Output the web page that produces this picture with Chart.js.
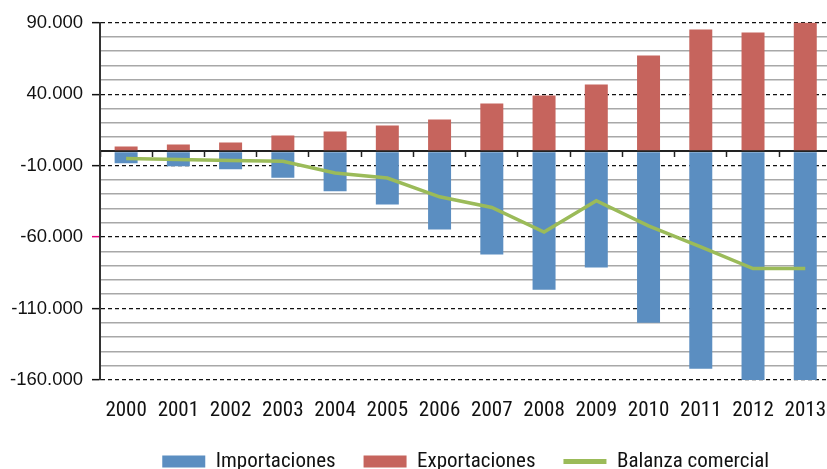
<!DOCTYPE html>
<html>
<head>
<meta charset="utf-8">
<script src="https://cdn.jsdelivr.net/npm/chart.js@4/dist/chart.umd.min.js"></script>
<style>
  html, body { margin: 0; padding: 0; background: #fff; overflow: hidden; }
  canvas { display: block; }
</style>
</head>
<body>
<canvas id="c" width="844" height="482"></canvas>
<script>
const years = ['2000','2001','2002','2003','2004','2005','2006','2007','2008','2009','2010','2011','2012','2013'];
const importaciones = [-8400, -10500, -12600, -18400, -28000, -37200, -54700, -72200, -96800, -81300, -119900, -152200, -165200, -172300];
const exportaciones = [3300, 4700, 6100, 11000, 13800, 18000, 22200, 33500, 39100, 46800, 67100, 85300, 83200, 90300];
const balanza = [-5100, -5800, -6500, -7000, -15100, -18700, -31800, -39300, -56500, -34600, -52100, -66800, -82000, -82000];
const seriesNames = ['Importaciones', 'Exportaciones', 'Balanza comercial'];
const yMin = -160000, yMax = 90000, yMinorStep = 10000, yMajorStep = 50000;

const NARROW = "'Liberation Sans Narrow', 'Roboto Condensed', 'DejaVu Sans Condensed', 'Liberation Sans', sans-serif";
const isMajor = v => ((v - yMin) % yMajorStep) === 0;
const fmt = v => {
  const s = Math.abs(v).toString().replace(/\B(?=(\d{3})+(?!\d))/g, '.');
  return (v < 0 ? '-' : '') + s;
};

new Chart(document.getElementById('c'), {
  type: 'bar',
  data: {
    labels: years,
    datasets: [
      { label: seriesNames[0], data: importaciones, backgroundColor: '#5B8EC1', order: 2, grouped: false,
        categoryPercentage: 1, barPercentage: 0.44 },
      { label: seriesNames[1], data: exportaciones, backgroundColor: '#C6645D', order: 1, grouped: false,
        categoryPercentage: 1, barPercentage: 0.44 },
      { type: 'line', label: seriesNames[2], data: balanza, borderColor: '#9BBB59', backgroundColor: '#9BBB59',
        borderWidth: 3.5, pointRadius: 0, tension: 0, order: 0, fill: false }
    ]
  },
  options: {
    responsive: false,
    animation: false,
    devicePixelRatio: 1,
    layout: { padding: { top: 22.7, right: 0, left: 0, bottom: 0 } },
    plugins: {
      tooltip: { enabled: false },
      legend: {
        position: 'bottom',
        fullSize: false,
        labels: {
          usePointStyle: true,
          pointStyleWidth: 43,
          boxHeight: 12,
          padding: 28,
          color: '#111',
          font: { family: NARROW, size: 21 },
          sort: (a, b) => a.datasetIndex - b.datasetIndex,
          generateLabels: (chart) => chart.data.datasets.map((ds, i) => ({
            text: ds.label,
            fillStyle: ds.backgroundColor,
            strokeStyle: ds.type === 'line' ? ds.borderColor : ds.backgroundColor,
            lineWidth: ds.type === 'line' ? 5 : 0,
            pointStyle: ds.type === 'line' ? 'line' : 'rect',
            fontColor: '#111',
            hidden: false,
            datasetIndex: i
          }))
        }
      }
    },
    scales: {
      x: {
        type: 'category',
        position: 'bottom',
        offset: true,
        afterFit: (scale) => { scale.height = 43; },
        grid: { display: false, drawTicks: false },
        border: { display: false },
        ticks: { color: '#111', font: { family: NARROW, size: 21 }, padding: 18, maxRotation: 0, autoSkip: false }
      },
      x2: {
        type: 'category',
        labels: years,
        position: { y: 0 },
        offset: true,
        grid: { offset: true, drawOnChartArea: false, drawTicks: true, tickLength: 6, tickColor: '#222', tickWidth: 1.5 },
        border: { display: false },
        ticks: { display: false }
      },
      y: {
        type: 'linear',
        min: yMin,
        max: yMax,
        afterFit: (scale) => { scale.width = 100; },
        ticks: {
          stepSize: yMinorStep,
          autoSkip: false,
          padding: 9,
          color: '#111',
          font: { family: "'Liberation Sans', Arial, sans-serif", size: 18.5 },
          callback: (v) => isMajor(v) ? fmt(v) : ''
        },
        grid: {
          drawTicks: true,
          tickLength: 8,
          tickWidth: 1.5,
          tickColor: (ctx) => {
            if (!ctx.tick) return 'transparent';
            const v = ctx.tick.value;
            if (v === -60000) return '#E6007E';
            return isMajor(v) ? '#111' : 'transparent';
          },
          color: (ctx) => {
            if (!ctx.tick) return '#999';
            const v = ctx.tick.value;
            if (v === 0) return '#222';
            return isMajor(v) ? '#111' : '#A8A8A8';
          },
          lineWidth: (ctx) => {
            if (!ctx.tick) return 1;
            const v = ctx.tick.value;
            if (v === 0) return 2;
            return isMajor(v) ? 1.3 : 1.6;
          }
        },
        border: {
          display: true,
          color: '#333',
          width: 2,
          dash: (ctx) => (ctx.tick && isMajor(ctx.tick.value) && ctx.tick.value !== 0) ? [4, 3] : []
        }
      }
    }
  }
});
</script>
</body>
</html>
